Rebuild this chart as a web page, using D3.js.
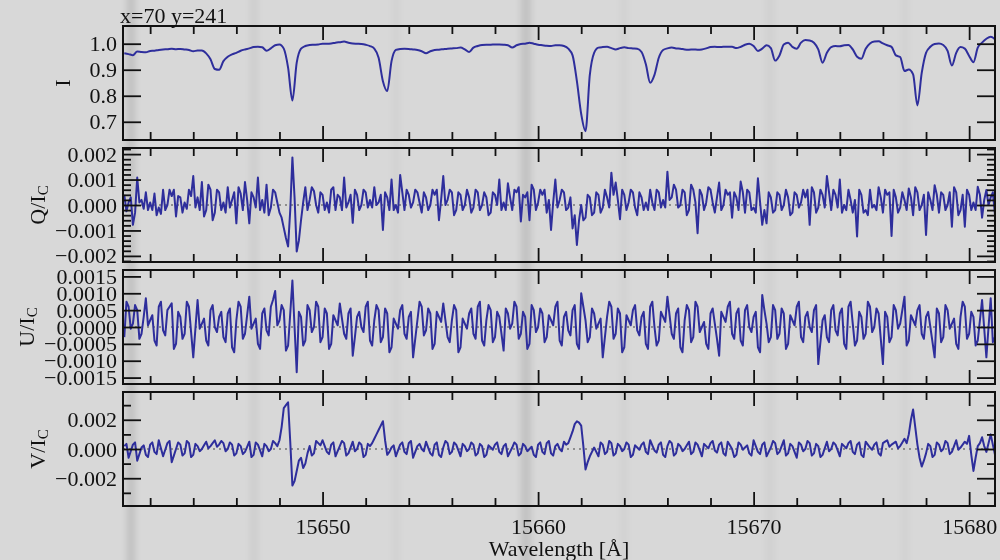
<!DOCTYPE html>
<html>
<head>
<meta charset="utf-8">
<script src="https://cdn.jsdelivr.net/npm/d3@7"></script>
<style>
  body { margin: 0; background: #d9d9d9; }
</style>
</head>
<body>
<div id="chart"></div>
<script>
// wavelength grids (Angstrom): intensity every 0.2 A, polarisation every 0.1 A
const waveStart = 15640.8, iStep = 0.2, polStep = 0.1;

// Stokes I (normalised)
const stokesI = [
  0.963,0.960,0.956,0.970,0.968,0.967,0.972,0.973,0.976,0.978,
  0.979,0.981,0.979,0.980,0.978,0.976,0.971,0.974,0.974,0.963,
  0.940,0.903,0.900,0.933,0.950,0.959,0.965,0.973,0.978,0.982,
  0.987,0.988,0.986,0.973,0.982,0.994,0.997,0.981,0.908,0.782,
  0.927,0.981,0.991,0.995,0.996,0.997,1.000,1.000,1.001,1.004,
  1.006,1.008,1.004,1.001,1.000,0.999,0.996,0.991,0.981,0.946,
  0.856,0.818,0.933,0.976,0.980,0.981,0.980,0.978,0.976,0.971,
  0.963,0.971,0.976,0.977,0.979,0.981,0.982,0.983,0.985,0.978,
  0.968,0.985,0.991,0.995,0.996,0.996,0.997,0.997,0.996,0.994,
  0.985,0.994,0.999,1.000,1.004,1.000,0.996,0.994,0.992,0.991,
  0.994,0.994,0.991,0.981,0.955,0.856,0.730,0.664,0.880,0.965,
  0.985,0.987,0.988,0.983,0.978,0.983,0.986,0.983,0.982,0.981,
  0.968,0.921,0.850,0.880,0.946,0.976,0.982,0.985,0.982,0.981,
  0.978,0.977,0.978,0.977,0.978,0.982,0.987,0.988,0.987,0.988,
  0.988,0.988,0.983,0.988,0.996,1.000,0.991,0.972,0.981,0.994,
  0.983,0.935,0.955,0.997,1.004,0.988,0.981,1.004,1.014,1.012,
  1.004,0.978,0.927,0.965,0.987,0.991,0.990,0.994,0.995,0.978,
  0.950,0.942,0.981,1.001,1.008,1.009,1.001,0.994,0.988,0.955,
  0.949,0.895,0.901,0.882,0.763,0.888,0.965,0.988,0.999,1.001,
  0.995,0.972,0.916,0.965,0.987,0.981,0.953,0.929,0.985,1.004,
  1.019,1.027,1.017
];

// Q/Ic, U/Ic, V/Ic in units of 1e-3
const stokesQ = [
  0.4,-0.25,0.1,0.3,-0.78,-0.3,1.08,0.1,0.2,-0.15,
  0.5,-0.2,0.1,-0.2,0.45,-0.4,-0.1,-0.35,0.6,-0.2,
  0.0,0.6,0.35,0.6,-0.45,0.35,0.3,-0.3,0.1,-0.15,
  0.6,0.35,1.14,-0.1,0.3,-0.2,0.9,-0.45,-0.2,0.8,
  0.6,-0.6,-0.3,0.6,0.5,-0.2,0.1,-0.3,0.7,-0.1,
  0.2,0.5,-0.72,0.7,0.45,-0.2,0.9,0.2,-0.72,0.5,
  0.3,-0.1,1.08,-0.2,0.2,-0.3,0.8,-0.4,-0.1,0.6,
  0.5,0.1,-0.3,-0.5,-0.9,-1.3,-1.63,-0.2,1.87,0.3,
  -1.83,-1.4,-0.6,0.1,0.7,-0.2,0.2,0.7,0.55,0.0,
  -0.3,0.5,0.4,-0.2,0.1,-0.3,0.6,0.7,-0.2,0.4,
  0.3,-0.2,1.08,-0.1,0.1,0.4,-0.7,0.6,0.4,-0.2,
  0.0,0.6,0.5,-0.1,0.2,-0.1,0.7,0.0,0.1,0.4,
  -0.98,0.5,0.3,-0.2,1.0,-0.2,0.0,-0.3,1.18,0.5,
  -0.2,0.6,0.4,-0.1,0.1,0.6,0.5,0.1,-0.3,0.5,
  0.3,-0.2,0.0,0.6,0.4,0.6,-0.6,0.2,1.14,0.0,
  0.2,0.6,0.5,-0.4,-0.2,0.5,0.4,-0.2,0.0,0.6,
  0.3,-0.3,-0.1,0.6,0.5,-0.2,0.0,0.5,0.3,-0.4,
  -0.3,0.5,0.4,0.0,1.0,-0.2,0.1,-0.2,0.85,0.3,
  -0.2,0.6,0.5,0.7,-0.65,0.4,0.3,0.5,-0.6,0.8,
  0.6,-0.2,0.1,0.6,0.4,0.6,-0.3,0.2,-0.98,0.1,
  1.0,-0.1,0.2,0.6,0.5,-0.2,-0.1,0.3,-0.92,-0.4,
  -1.57,-0.6,0.0,-0.6,-0.5,0.4,0.3,-0.4,-0.3,0.5,
  0.4,-0.3,-0.1,0.6,0.3,-0.1,1.27,0.4,0.88,0.2,
  -0.56,0.6,0.4,-0.2,0.1,0.6,0.5,-0.1,-0.4,0.5,
  0.3,-0.2,0.1,-0.2,0.6,0.1,-0.2,0.6,0.5,-0.1,
  0.2,-0.1,1.31,0.2,0.3,0.8,0.6,-0.1,0.0,0.6,
  0.5,-0.4,-0.2,0.8,0.6,0.1,-1.11,0.6,0.4,-0.2,
  0.1,0.7,0.6,0.1,-0.3,0.3,0.88,-0.2,0.0,0.6,
  0.4,0.5,-0.5,0.5,0.3,-0.2,0.92,0.5,-0.3,0.6,
  0.5,-0.2,-0.1,-0.3,1.05,0.1,-0.78,-0.2,-0.72,0.5,
  0.3,-0.3,-0.2,0.5,0.4,-0.2,0.0,0.6,0.3,-0.4,
  -0.3,0.5,0.4,-0.1,0.1,0.6,0.3,0.6,-0.78,0.7,
  0.5,-0.3,-0.1,0.6,0.4,-0.1,1.14,0.5,-0.2,0.6,
  0.4,-0.1,1.0,-0.3,0.0,-0.2,0.6,0.2,-0.3,0.2,
  -1.24,0.6,0.4,-0.3,-0.2,-0.4,0.6,-0.1,0.0,-0.2,
  0.7,0.3,-0.3,0.6,0.4,0.5,-1.22,0.6,0.3,-0.3,
  -0.1,0.5,0.2,-0.2,0.65,0.3,-0.4,0.7,0.5,-0.2,
  0.0,0.4,-1.18,0.5,0.2,-0.2,0.78,0.4,-0.3,0.5,
  0.4,-0.2,0.0,0.5,-0.85,0.7,0.5,-0.4,-0.2,0.4,
  -0.85,0.6,0.4,-0.2,0.1,-0.2,0.72,0.4,-0.5,0.2,
  0.59,0.0,0.3,0.5,-0.4
];

const stokesU = [
  -0.3,0.75,0.6,-0.05,0.1,0.65,0.5,-0.35,-0.2,0.3,
  0.85,0.05,0.2,0.35,-0.4,-0.55,0.6,0.75,-0.1,-0.25,
  0.5,0.6,0.7,-0.65,-0.5,0.45,0.3,-0.35,-0.2,0.75,
  0.6,-0.15,-0.9,-0.05,0.8,-0.05,0.1,0.25,-0.4,-0.55,
  0.5,0.65,0.0,-0.15,0.3,0.45,-0.3,-0.45,0.4,0.55,
  -0.6,-0.75,0.2,0.75,0.6,-0.35,-0.2,0.35,0.9,-0.05,
  0.1,0.25,-0.5,-0.65,0.4,0.55,-0.1,-0.25,0.6,0.8,
  1.07,0.05,0.2,0.65,0.5,-0.7,-0.55,0.4,1.38,0.0,
  -1.34,0.45,0.3,-0.55,-0.4,0.65,0.5,-0.15,0.0,0.75,
  0.6,-0.45,-0.3,0.55,0.4,-0.65,-0.5,0.35,0.2,0.05,
  0.7,0.25,-0.2,-0.35,0.4,0.55,-0.85,-0.3,0.3,0.45,
  0.0,-0.15,0.6,0.75,-0.4,-0.55,0.2,0.65,0.5,-0.45,
  -0.3,0.55,0.4,-0.75,-0.6,0.25,0.1,-0.05,0.5,0.65,
  -0.2,-0.35,0.3,0.45,-0.9,-0.35,0.2,0.75,0.6,-0.25,
  -0.1,0.55,0.4,-0.65,-0.5,0.45,0.3,0.15,0.7,0.2,
  -0.3,-0.45,0.2,0.65,0.5,-0.75,-0.6,0.25,0.1,-0.05,
  0.4,0.55,-0.2,-0.35,0.6,0.75,-0.4,-0.55,0.2,0.65,
  0.5,-0.45,-0.3,0.45,0.3,-0.2,-0.7,0.55,0.4,-0.05,
  0.1,0.75,0.6,-0.35,-0.2,0.45,0.3,-0.65,-0.5,0.65,
  0.5,-0.15,0.0,0.55,0.4,-0.45,-0.3,0.35,0.2,0.05,
  0.6,0.75,-0.4,-0.55,0.3,0.45,-0.1,-0.25,0.5,0.65,
  -0.5,-0.65,1.0,0.6,0.2,-0.45,-0.3,0.55,0.4,-0.05,
  0.1,0.25,-0.9,-0.3,0.3,0.75,0.6,-0.35,-0.2,0.55,
  0.4,-0.75,-0.6,0.35,0.2,0.05,0.5,0.65,-0.1,-0.25,
  0.3,0.45,-0.5,-0.65,0.6,0.75,0.0,-0.55,-0.4,0.45,
  0.3,0.15,0.9,0.35,-0.2,-0.35,0.4,0.55,-0.6,-0.75,
  0.2,0.65,0.5,-0.45,-0.3,0.75,0.6,-0.15,0.0,0.15,
  -0.5,-0.65,0.4,0.55,0.1,-0.35,-0.85,0.45,0.3,0.15,
  0.6,0.75,-0.2,-0.35,0.4,0.55,-0.4,-0.55,0.5,0.65,
  0.0,-0.15,0.3,0.45,-0.6,-0.75,0.95,0.5,0.1,-0.45,
  -0.3,0.65,0.5,-0.35,-0.2,0.55,0.4,-0.65,-0.5,0.35,
  0.2,0.05,0.6,0.75,-0.3,-0.45,0.3,0.45,0.0,-0.15,
  0.5,0.65,-1.1,-0.45,0.2,0.35,-0.3,-0.45,0.5,0.65,
  -0.1,-0.25,0.4,0.55,-0.5,-0.65,0.6,0.75,0.1,-0.55,
  -0.4,0.45,0.3,-0.35,-0.2,0.75,0.6,-0.15,0.0,0.55,
  0.4,-0.35,-1.1,0.45,0.3,-0.45,-0.3,0.65,0.5,-0.05,
  0.1,0.5,0.9,-0.55,-0.4,0.35,0.2,0.05,0.5,0.65,
  -0.2,-0.35,0.3,0.45,0.0,-0.45,-0.9,0.55,0.4,-0.45,
  -0.3,0.65,0.5,-0.05,0.1,0.25,-0.5,-0.65,0.3,0.75,
  0.6,-0.35,-0.2,0.45,0.3,-0.55,-0.4,0.2,0.8,-0.05,
  -0.9,0.0,0.85,-0.45,-0.3
];

const stokesV = [
  0.2,0.35,-0.6,-0.15,0.3,0.45,-0.8,-0.35,0.1,0.25,
  -0.4,-0.55,0.3,0.45,-0.2,-0.35,0.6,0.05,-0.5,-0.05,
  0.4,0.55,-0.9,-0.45,0.0,0.45,0.3,-0.45,-0.3,0.55,
  0.4,-0.55,-0.4,0.35,0.2,-0.15,0.0,0.25,0.5,0.05,
  0.2,0.4,0.6,0.15,0.3,0.55,0.4,-0.15,0.0,0.45,
  0.3,-0.45,-0.3,0.35,0.2,-0.35,-0.2,0.15,0.5,-0.55,
  -0.4,0.45,0.3,-0.1,-0.5,0.35,0.2,-0.15,0.0,0.55,
  0.4,0.2,0.6,1.5,2.8,3.0,3.2,0.5,-2.5,-2.2,
  -1.5,-0.8,-0.6,-1.3,-1.0,-0.3,0.2,-0.45,-0.3,0.55,
  0.4,0.25,0.6,0.2,-0.2,-0.35,0.3,0.45,-0.5,-0.15,
  0.2,0.55,0.4,-0.45,-0.3,0.1,0.5,-0.15,0.0,0.45,
  0.3,-0.55,-0.4,0.35,0.2,0.4,0.7,1.0,1.3,1.6,
  1.9,0.6,-0.4,-0.2,0.1,0.25,-0.5,-0.1,0.3,0.45,
  -0.2,-0.35,0.4,0.55,-0.6,-0.2,0.2,0.35,0.0,-0.15,
  0.5,0.1,-0.3,-0.45,0.3,0.45,-0.4,-0.55,0.1,0.55,
  0.4,-0.35,-0.2,0.45,0.3,-0.1,-0.5,0.35,0.2,-0.15,
  0.0,0.45,0.3,-0.45,-0.3,0.35,0.2,-0.55,-0.4,0.25,
  0.1,-0.05,0.3,0.45,-0.2,-0.35,0.2,0.35,-0.5,-0.2,
  0.1,0.45,0.3,-0.45,-0.3,0.35,0.2,-0.15,0.0,0.15,
  -0.4,-0.55,0.3,0.45,-0.2,-0.35,0.4,0.55,-0.3,-0.45,
  0.2,0.35,0.0,-0.15,0.5,0.3,0.4,0.8,1.2,1.7,
  1.9,1.8,1.6,0.2,-1.4,-0.9,-0.5,-0.2,0.1,-0.2,
  -0.5,0.45,0.3,-0.35,-0.2,0.55,0.4,-0.45,-0.3,0.35,
  0.2,-0.15,0.0,0.45,0.3,-0.55,-0.4,0.25,0.1,-0.05,
  0.3,0.45,-0.2,-0.35,0.6,0.25,-0.1,-0.25,0.3,0.45,
  -0.4,-0.55,0.2,0.55,0.4,-0.45,-0.3,0.35,0.2,-0.15,
  0.0,0.25,0.5,-0.35,-0.2,0.45,0.3,-0.1,-0.5,0.35,
  0.2,0.05,0.4,0.55,-0.1,-0.25,0.3,0.45,-0.3,-0.45,
  0.5,0.25,0.0,-0.55,-0.4,0.45,0.3,-0.05,0.1,0.25,
  -0.3,-0.45,0.6,0.2,-0.2,-0.35,0.3,0.45,-0.5,-0.2,
  0.1,0.55,0.4,-0.35,-0.2,0.2,0.6,-0.45,-0.3,0.35,
  0.2,-0.2,-0.6,0.45,0.3,-0.15,0.0,0.55,0.4,-0.45,
  -0.3,0.35,0.2,-0.55,-0.4,0.05,0.5,-0.15,0.0,0.45,
  0.3,-0.1,-0.5,0.35,0.2,0.05,0.4,0.55,-0.2,-0.35,
  0.3,0.45,-0.4,-0.55,0.5,0.3,0.1,-0.05,0.3,0.45,
  -0.3,-0.45,0.4,0.5,0.6,0.15,0.3,0.4,0.5,0.05,
  0.2,0.45,0.7,0.4,1.0,2.0,2.7,1.5,0.3,-0.6,
  -1.2,-0.8,-0.3,0.35,0.2,-0.55,-0.4,0.45,0.3,-0.15,
  0.0,0.55,0.4,-0.35,-0.2,0.2,0.6,-0.05,0.1,0.3,
  0.5,0.35,0.9,-0.4,-1.5,-0.6,0.2,0.4,0.8,0.2,
  -0.2,0.4,1.0,0.3,-0.4
];

// tick values
const xMajorTicks = [15650, 15660, 15670, 15680];
const xMinorTicks = [15642,15644,15646,15648,15652,15654,15656,15658,15662,15664,15666,15668,15672,15674,15676,15678];
const iTicks = [0.7, 0.8, 0.9, 1.0];
const qTicks = [-0.002, -0.001, 0, 0.001, 0.002];
const uTicks = [-0.0015, -0.001, -0.0005, 0, 0.0005, 0.001, 0.0015];
const vTicks = [-0.002, 0, 0.002];
const vMinorTicks = [-0.003, -0.001, 0.001, 0.003];
const qMinorTicks = d3.range(-22, 23, 2).filter(v => v % 10 !== 0).map(v => v * 1e-4);

const title = "x=70 y=241";
const xLabel = "Wavelength [Å]";

var width = 1000, height = 560;
var font = "'Liberation Serif', 'Times New Roman', serif";
var ink = "#111";
var lineColor = "#2e2e9c";

var iWave = d3.range(stokesI.length).map(i => waveStart + i * iStep);
var polWave = d3.range(stokesQ.length).map(i => waveStart + i * polStep);

var svg = d3.select("#chart").append("svg")
    .attr("width", width)
    .attr("height", height)
    .style("display", "block");

// grey spectrogram-like backdrop
svg.append("rect").attr("width", width).attr("height", height).attr("fill", "#d8d8d8");
var defs = svg.append("defs");
defs.append("filter").attr("id", "blur").append("feGaussianBlur").attr("stdDeviation", 3);
var bands = [[131, 8, 0.11], [254, 7, 0.05], [396, 6, 0.03], [526, 10, 0.10], [624, 6, 0.03], [770, 8, 0.03], [905, 6, 0.03]];
svg.append("g").attr("filter", "url(#blur)")
    .selectAll("rect").data(bands).enter().append("rect")
    .attr("x", d => d[0] - d[1] / 2).attr("width", d => d[1])
    .attr("y", -10).attr("height", height + 20)
    .attr("fill", "#000").attr("opacity", d => d[2]);

var x = d3.scaleLinear()
    .domain([15640.74, 15681.2])
    .range([123, 995]);

var panels = [
    { label: "I", sub: "", vals: stokesI, wave: iWave, top: 26, bottom: 140, domain: [0.63, 1.068],
      major: iTicks, minor: [], fmt: d3.format(".1f"), zero: false, labelX: 70, curve: d3.curveMonotoneX },
    { label: "Q/I", sub: "C", vals: stokesQ.map(v => v * 1e-3), wave: polWave, top: 148, bottom: 262, domain: [-0.00224, 0.00224],
      major: qTicks, minor: qMinorTicks, fmt: d3.format(".3f"), zero: true, labelX: 45, curve: d3.curveLinear },
    { label: "U/I", sub: "C", vals: stokesU.map(v => v * 1e-3), wave: polWave, top: 270, bottom: 384, domain: [-0.00169, 0.00169],
      major: uTicks, minor: [], fmt: d3.format(".4f"), zero: true, labelX: 34, curve: d3.curveLinear },
    { label: "V/I", sub: "C", vals: stokesV.map(v => v * 1e-3), wave: polWave, top: 392, bottom: 506, domain: [-0.0039, 0.0039],
      major: vTicks, minor: vMinorTicks, fmt: d3.format(".3f"), zero: true, labelX: 45, curve: d3.curveLinear }
];

var styleAxis = g => g
    .attr("font-family", font)
    .attr("font-size", 22)
    .style("color", ink)
    .call(g => g.selectAll(".domain").remove())
    .call(g => g.selectAll("line").attr("stroke-width", 1.8));

panels.forEach((p, k) => {
    var y = d3.scaleLinear().domain(p.domain).range([p.bottom, p.top]);
    var g = svg.append("g");
    var x0 = x.range()[0], x1 = x.range()[1];

    defs.append("clipPath").attr("id", "clip" + k)
        .append("rect").attr("x", x0).attr("y", p.top).attr("width", x1 - x0).attr("height", p.bottom - p.top);

    if (p.zero) {
        g.append("line")
            .attr("x1", x0).attr("x2", x1)
            .attr("y1", y(0)).attr("y2", y(0))
            .attr("stroke", "#444").attr("stroke-width", 1.2)
            .attr("stroke-dasharray", "2,4");
    }

    g.append("path")
        .datum(p.vals)
        .attr("clip-path", `url(#clip${k})`)
        .attr("fill", "none")
        .attr("stroke", lineColor)
        .attr("stroke-width", 2)
        .attr("stroke-linejoin", "round")
        .attr("d", d3.line().x((d, i) => x(p.wave[i])).y(d => y(d)).curve(p.curve));

    // y axes, ticks pointing inwards
    g.append("g").attr("transform", `translate(${x0},0)`)
        .call(d3.axisLeft(y).tickValues(p.major).tickSize(-18).tickPadding(6).tickFormat(p.fmt))
        .call(styleAxis);
    g.append("g").attr("transform", `translate(${x1},0)`)
        .call(d3.axisRight(y).tickValues(p.major).tickSize(-18).tickFormat(""))
        .call(styleAxis);
    if (p.minor.length) {
        g.append("g").attr("transform", `translate(${x0},0)`)
            .call(d3.axisLeft(y).tickValues(p.minor).tickSize(-8).tickFormat(""))
            .call(styleAxis);
        g.append("g").attr("transform", `translate(${x1},0)`)
            .call(d3.axisRight(y).tickValues(p.minor).tickSize(-8).tickFormat(""))
            .call(styleAxis);
    }

    // x axes top & bottom
    var last = k === panels.length - 1;
    g.append("g").attr("transform", `translate(0,${p.top})`)
        .call(d3.axisTop(x).tickValues(xMajorTicks).tickSize(-14).tickFormat(""))
        .call(styleAxis);
    g.append("g").attr("transform", `translate(0,${p.top})`)
        .call(d3.axisTop(x).tickValues(xMinorTicks).tickSize(-8).tickFormat(""))
        .call(styleAxis);
    g.append("g").attr("transform", `translate(0,${p.bottom})`)
        .call(d3.axisBottom(x).tickValues(xMajorTicks).tickSize(-14).tickPadding(12)
            .tickFormat(last ? d3.format("d") : ""))
        .call(styleAxis);
    g.append("g").attr("transform", `translate(0,${p.bottom})`)
        .call(d3.axisBottom(x).tickValues(xMinorTicks).tickSize(-8).tickFormat(""))
        .call(styleAxis);

    g.append("rect")
        .attr("x", x0).attr("y", p.top)
        .attr("width", x1 - x0).attr("height", p.bottom - p.top)
        .attr("fill", "none").attr("stroke", ink).attr("stroke-width", 2);

    // rotated y label with subscript
    var lab = g.append("text")
        .attr("transform", `translate(${p.labelX},${(p.top + p.bottom) / 2}) rotate(-90)`)
        .attr("text-anchor", "middle")
        .attr("font-family", font)
        .attr("font-size", 22)
        .attr("fill", ink)
        .text(p.label);
    if (p.sub) {
        lab.append("tspan").attr("font-size", 15).attr("dy", 3).text(p.sub);
    }
});

svg.append("text")
    .attr("x", 120).attr("y", 23)
    .attr("font-family", font).attr("font-size", 22).attr("fill", ink)
    .text(title);

svg.append("text")
    .attr("x", (x.range()[0] + x.range()[1]) / 2).attr("y", 556)
    .attr("text-anchor", "middle")
    .attr("font-family", font).attr("font-size", 22).attr("fill", ink)
    .text(xLabel);
</script>
</body>
</html>
